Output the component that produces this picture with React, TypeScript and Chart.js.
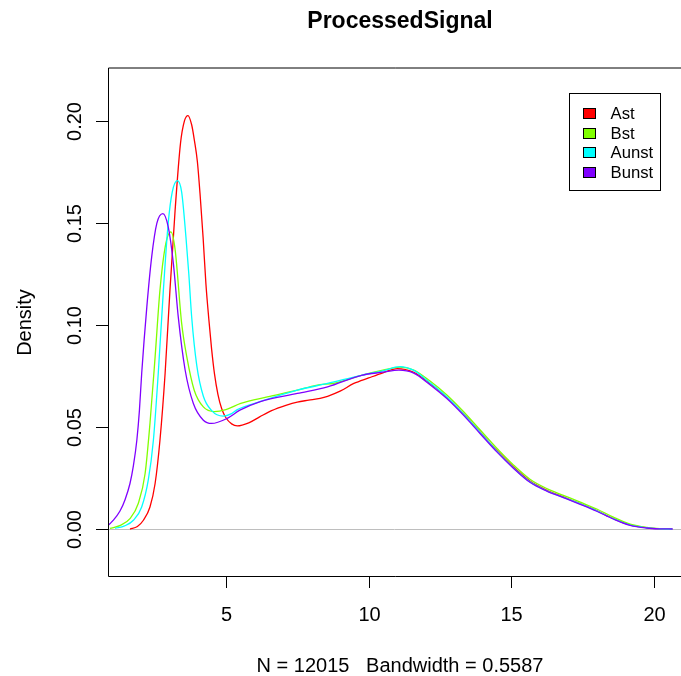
import React, { useEffect, useRef } from "react";
import { Chart, registerables } from "chart.js";

Chart.register(...registerables);

// ---- data ----
const seriesNames = ["Ast", "Bst", "Aunst", "Bunst"];
const seriesColors = ["#FF0000", "#80FF00", "#00FFFF", "#8000FF"];

const astX = [1.64, 1.9, 2.11, 2.34, 2.52, 2.69, 2.87, 3.04, 3.22, 3.41, 3.55, 3.67, 3.8, 3.9, 4.0, 4.1, 4.2, 4.3, 4.4, 4.5, 4.6, 4.72, 4.85, 5.0, 5.2, 5.4, 5.8, 6.18, 6.6, 7.1, 7.5, 7.9, 8.3, 8.56, 9.0, 9.48, 10.0, 10.5, 11.0, 11.56, 12.15, 12.73, 13.31, 13.9, 14.48, 15.07, 15.65, 16.24, 16.82, 17.41, 17.99, 18.57, 19.16, 19.74, 20.2, 20.63];
const astY = [0.0, 0.0012, 0.0043, 0.0108, 0.0223, 0.0435, 0.0762, 0.117, 0.156, 0.189, 0.2, 0.2025, 0.198, 0.19, 0.18, 0.163, 0.143, 0.12, 0.103, 0.088, 0.076, 0.066, 0.059, 0.0545, 0.0515, 0.0505, 0.052, 0.0549, 0.058, 0.0606, 0.0622, 0.0631, 0.064, 0.065, 0.0675, 0.0713, 0.074, 0.0765, 0.0786, 0.0769, 0.0713, 0.0647, 0.0566, 0.0475, 0.0386, 0.0304, 0.0235, 0.019, 0.0157, 0.0124, 0.009, 0.0051, 0.002, 0.0006, 0.0001, 0.0];

const bstX = [0.94, 1.3, 1.64, 1.93, 2.17, 2.34, 2.52, 2.69, 2.87, 3.07, 3.22, 3.45, 3.63, 3.89, 4.21, 4.6, 5.0, 5.52, 6.45, 7.5, 8.16, 8.82, 9.75, 10.5, 11.1, 11.56, 12.15, 12.73, 13.31, 13.9, 14.48, 15.07, 15.65, 16.24, 16.82, 17.41, 17.99, 18.57, 19.16, 19.74, 20.2, 20.63];
const bstY = [0.0003, 0.0018, 0.0051, 0.0125, 0.0272, 0.0517, 0.0843, 0.117, 0.138, 0.1455, 0.137, 0.1007, 0.0843, 0.068, 0.0598, 0.0575, 0.0585, 0.0615, 0.0647, 0.068, 0.0704, 0.0715, 0.0753, 0.0778, 0.0793, 0.078, 0.0725, 0.0658, 0.0577, 0.0486, 0.0397, 0.0314, 0.0244, 0.0198, 0.0165, 0.0132, 0.0098, 0.0058, 0.0024, 0.0008, 0.0002, 0.0];

const aunstX = [1.12, 1.45, 1.76, 2.05, 2.28, 2.46, 2.63, 2.81, 2.98, 3.12, 3.3, 3.45, 3.6, 3.7, 3.8, 3.98, 4.21, 4.5, 4.9, 5.2, 5.4, 6.18, 7.5, 8.56, 9.75, 10.5, 11.1, 11.56, 12.15, 12.73, 13.31, 13.9, 14.48, 15.07, 15.65, 16.24, 16.82, 17.41, 17.99, 18.57, 19.16, 19.74, 20.2, 20.63];
const aunstY = [0.0003, 0.0015, 0.0043, 0.0108, 0.0239, 0.0435, 0.0762, 0.117, 0.15, 0.165, 0.1706, 0.165, 0.143, 0.125, 0.104, 0.08, 0.065, 0.058, 0.0553, 0.0565, 0.0585, 0.0623, 0.068, 0.0713, 0.0753, 0.0775, 0.0795, 0.0778, 0.0716, 0.0648, 0.0565, 0.0473, 0.0383, 0.03, 0.0231, 0.0187, 0.0155, 0.0123, 0.0089, 0.005, 0.0019, 0.0006, 0.0001, 0.0];

const bunstX = [0.6, 0.87, 1.05, 1.29, 1.47, 1.64, 1.76, 1.88, 1.97, 2.05, 2.23, 2.4, 2.58, 2.79, 2.98, 3.16, 3.33, 3.57, 3.86, 4.21, 4.5, 5.03, 5.49, 6.18, 7.5, 8.56, 9.75, 10.5, 11.06, 11.56, 12.15, 12.73, 13.31, 13.9, 14.48, 15.07, 15.65, 16.24, 16.82, 17.41, 17.99, 18.57, 19.16, 19.74, 20.2, 20.65];
const bunstY = [0.0008, 0.0018, 0.0042, 0.0088, 0.0145, 0.0223, 0.031, 0.0435, 0.058, 0.0762, 0.1088, 0.1333, 0.1497, 0.1545, 0.148, 0.13, 0.104, 0.078, 0.0615, 0.0533, 0.0517, 0.0541, 0.0582, 0.0623, 0.0664, 0.0696, 0.0753, 0.0768, 0.0778, 0.0765, 0.0707, 0.064, 0.0559, 0.0468, 0.0379, 0.0298, 0.0229, 0.0186, 0.0154, 0.0121, 0.0087, 0.0049, 0.0018, 0.0005, 0.0001, 0.0];

const xTicks = [5, 10, 15, 20];
const xTickLabels = ["5", "10", "15", "20"];
const yTicks = [0, 0.05, 0.1, 0.15, 0.2];
const yTickLabels = ["0.00", "0.05", "0.10", "0.15", "0.20"];
const titleText = "ProcessedSignal";
const xAxisLabel = "N = 12015   Bandwidth = 0.5587";
const yAxisLabel = "Density";

const FONT = "'Liberation Sans', Arial, Helvetica, sans-serif";

const toPoints = (xs: number[], ys: number[]) => xs.map((x, i) => ({ x, y: ys[i] }));

const rPlotPlugin = {
  id: "rPlot",
  beforeDatasetsDraw(chart: any) {
    const { ctx, chartArea, scales } = chart;
    const y0 = Math.round(scales.y.getPixelForValue(0)) + 0.5;
    ctx.save();
    ctx.strokeStyle = "#BEBEBE";
    ctx.lineWidth = 1;
    ctx.beginPath();
    ctx.moveTo(chartArea.left, y0);
    ctx.lineTo(chartArea.right, y0);
    ctx.stroke();
    ctx.restore();
  },
  afterDatasetsDraw(chart: any) {
    const { ctx, chartArea, scales } = chart;
    const { left, top, right, bottom } = chartArea;
    ctx.save();
    // box
    ctx.strokeStyle = "#000";
    ctx.lineWidth = 1;
    ctx.beginPath();
    ctx.moveTo(right + 30, top);
    ctx.lineTo(left + 0.5, top);
    ctx.lineTo(left + 0.5, bottom - 0.5);
    ctx.lineTo(right + 30, bottom - 0.5);
    ctx.stroke();

    // x ticks
    ctx.fillStyle = "#000";
    ctx.font = `20px ${FONT}`;
    ctx.textAlign = "center";
    ctx.textBaseline = "alphabetic";
    xTicks.forEach((v, i) => {
      const px = Math.round(scales.x.getPixelForValue(v)) + 0.5;
      ctx.beginPath();
      ctx.moveTo(px, bottom);
      ctx.lineTo(px, bottom + 11);
      ctx.stroke();
      ctx.fillText(xTickLabels[i], px, 621);
    });

    // y ticks
    yTicks.forEach((v, i) => {
      const py = Math.round(scales.y.getPixelForValue(v)) + 0.5;
      ctx.beginPath();
      ctx.moveTo(left, py);
      ctx.lineTo(left - 12, py);
      ctx.stroke();
      ctx.save();
      ctx.translate(80.5, py);
      ctx.rotate(-Math.PI / 2);
      ctx.textAlign = "center";
      ctx.fillText(yTickLabels[i], 0, 0);
      ctx.restore();
    });

    // axis labels
    ctx.fillText(xAxisLabel, 400, 672);
    ctx.save();
    ctx.translate(31, (top + bottom) / 2);
    ctx.rotate(-Math.PI / 2);
    ctx.textAlign = "center";
    ctx.fillText(yAxisLabel, 0, 0);
    ctx.restore();

    // title
    ctx.font = `bold 23px ${FONT}`;
    ctx.fillText(titleText, 400, 28);

    // legend
    ctx.fillStyle = "#fff";
    ctx.fillRect(569.5, 93.5, 91, 97);
    ctx.strokeStyle = "#000";
    ctx.strokeRect(569.5, 93.5, 91, 97);
    ctx.font = `16.7px ${FONT}`;
    ctx.textAlign = "left";
    seriesNames.forEach((name, i) => {
      const cy = 113.3 + i * 19.5;
      ctx.fillStyle = seriesColors[i];
      ctx.fillRect(583.5, Math.round(cy - 5) + 0.5, 12, 10);
      ctx.strokeStyle = "#000";
      ctx.strokeRect(583.5, Math.round(cy - 5) + 0.5, 12, 10);
      ctx.fillStyle = "#000";
      ctx.fillText(name, 610.5, cy + 6);
    });
    ctx.restore();
  },
};

export default function App() {
  const canvasRef = useRef<HTMLCanvasElement | null>(null);

  useEffect(() => {
    if (!canvasRef.current) return;
    const seriesX = [astX, bstX, aunstX, bunstX];
    const seriesY = [astY, bstY, aunstY, bunstY];
    const chart = new Chart(canvasRef.current, {
      type: "line",
      data: {
        datasets: seriesNames.map((name, i) => ({
          label: name,
          data: toPoints(seriesX[i], seriesY[i]),
          borderColor: seriesColors[i],
          backgroundColor: seriesColors[i],
          borderWidth: 1.3,
          pointRadius: 0,
          fill: false,
          cubicInterpolationMode: "monotone" as const,
          order: 4 - i,
        })),
      },
      options: {
        responsive: false,
        animation: false,
        devicePixelRatio: 1,
        layout: { padding: { left: 108, top: 68, right: 0, bottom: 99 } },
        scales: {
          x: { type: "linear", min: 0.87, max: 20.94, display: false },
          y: { type: "linear", min: -0.0235, max: 0.2258, display: false },
        },
        plugins: {
          legend: { display: false },
          tooltip: { enabled: false },
          title: { display: false },
        },
      },
      plugins: [rPlotPlugin],
    });
    return () => chart.destroy();
  }, []);

  return (
    <div style={{ position: "absolute", left: 0, top: 0, width: 681, height: 676, background: "#fff" }}>
      <canvas ref={canvasRef} width={681} height={676} style={{ display: "block", width: 681, height: 676 }} />
    </div>
  );
}
